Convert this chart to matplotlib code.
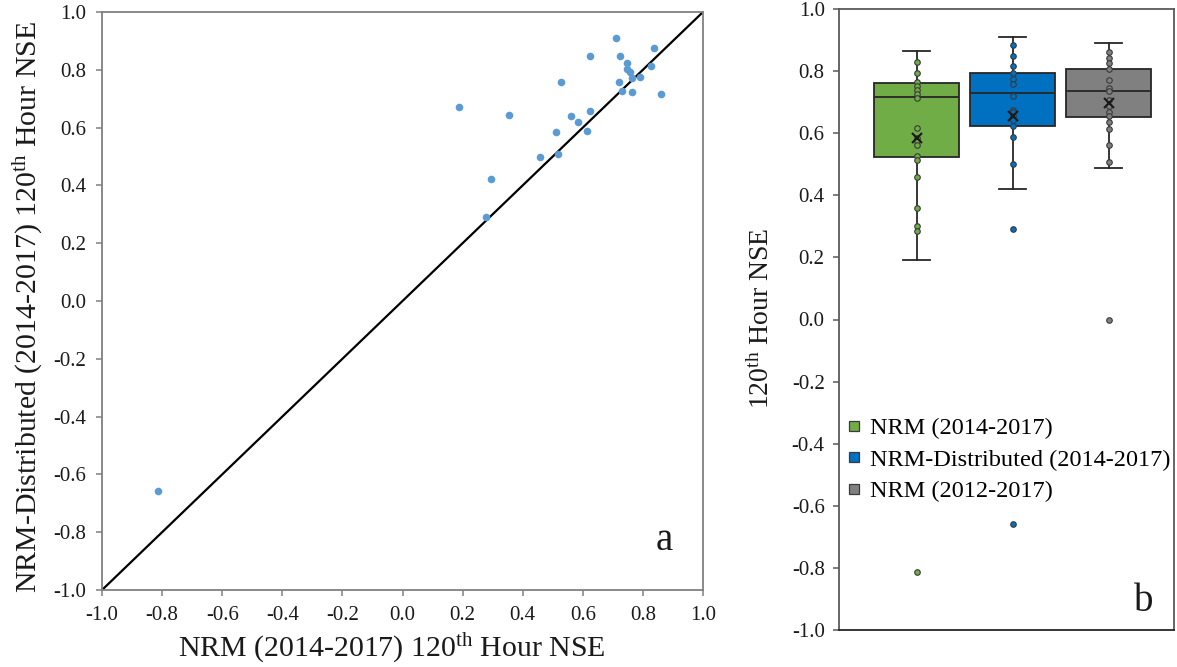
import numpy as np
import matplotlib
matplotlib.use('Agg')
from matplotlib import pyplot as plt
from matplotlib.lines import Line2D

plt.rcParams['font.family'] = ['Liberation Serif', 'DejaVu Serif']
plt.rcParams['mathtext.fontset'] = 'custom'
plt.rcParams['mathtext.rm'] = 'Liberation Serif'
plt.rcParams['mathtext.it'] = 'Liberation Serif:italic'

# panel a - 120th hour NSE, NRM vs NRM-Distributed (2014-2017)
nrm_x = [0.712, 0.837, 0.625, 0.724, 0.747, 0.746, 0.758, 0.827, 0.792, 0.763,
         0.526, 0.721, 0.730, 0.765, 0.860, 0.188, 0.355, 0.625, 0.560, 0.583,
         0.512, 0.614, 0.458, 0.519, 0.296, 0.279, -0.813]
dist_y = [0.909, 0.876, 0.849, 0.849, 0.824, 0.802, 0.792, 0.812, 0.776, 0.771,
          0.757, 0.757, 0.727, 0.724, 0.717, 0.671, 0.643, 0.657, 0.639, 0.618,
          0.584, 0.587, 0.498, 0.508, 0.421, 0.291, -0.657]

# panel b - box plots
labels = ['NRM (2014-2017)', 'NRM-Distributed (2014-2017)', 'NRM (2012-2017)']
colors = ['#70AD47', '#0070C0', '#808080']
q1 = [0.524, 0.623, 0.652]
med = [0.718, 0.728, 0.735]
q3 = [0.761, 0.794, 0.806]
wlo = [0.191, 0.420, 0.487]
whi = [0.864, 0.910, 0.889]
means = [0.584, 0.654, 0.698]
pts_nrm = [0.830, 0.795, 0.765, 0.752, 0.738, 0.725, 0.712, 0.616, 0.584, 0.575,
           0.562, 0.528, 0.514, 0.458, 0.358, 0.301, 0.284, -0.812]
pts_dist = [0.884, 0.850, 0.817, 0.795, 0.775, 0.758, 0.721, 0.675, 0.667, 0.656,
            0.643, 0.623, 0.587, 0.501, 0.292, -0.660]
pts_nrm12 = [0.861, 0.842, 0.826, 0.806, 0.771, 0.747, 0.735, 0.707, 0.689, 0.668,
             0.654, 0.636, 0.614, 0.563, 0.506, 0.000]
pts = [pts_nrm, pts_dist, pts_nrm12]

ticks = np.round(np.arange(-1.0, 1.01, 0.2), 1) + 0.0
ticklabels = ['%.1f' % t for t in ticks]
ticklabels = [t.replace('-0.0', '0.0') for t in ticklabels]
txt = '#1a1a1a'

fig = plt.figure(figsize=(11.77, 6.67), dpi=100)

# ---- a ----
ax = fig.add_axes([102/1177, 77/667, 601/1177, 578/667])
ax.scatter(nrm_x, dist_y, s=30, color='#5B9BD5', zorder=3, linewidths=0)
ax.plot([-1, 1], [-1, 1], color='black', lw=1.6, zorder=2)
ax.set_xlim(-1, 1)
ax.set_ylim(-1, 1)
ax.set_xticks(ticks)
ax.set_yticks(ticks)
ax.set_xticklabels(ticklabels)
ax.set_yticklabels(ticklabels)
for s in ax.spines.values():
    s.set_color('#808080')
    s.set_linewidth(1.3)
ax.tick_params(direction='out', length=4.3, width=1.1, color='#808080',
               labelsize=15, labelcolor=txt, pad=7)
ax.text(0.935, 0.07, 'a', transform=ax.transAxes, fontsize=28, color=txt,
        ha='center', va='baseline')

fig.text(392/1177, 10/667, r'NRM (2014-2017) 120$^{\mathrm{th}}$ Hour NSE',
         fontsize=21.5, color=txt, ha='center', va='baseline')
fig.text(28/1177, 1 - 307/667,
         r'NRM-Distributed (2014-2017) 120$^{\mathrm{th}}$ Hour NSE',
         fontsize=21.5, color=txt, ha='center', va='center', rotation=90)

# ---- b ----
bx = fig.add_axes([839/1177, 37/667, 335/1177, 621/667])
stats = []
for i in range(3):
    stats.append({'q1': q1[i], 'med': med[i], 'q3': q3[i], 'whislo': wlo[i],
                  'whishi': whi[i], 'mean': means[i], 'fliers': []})
pos = [1, 2, 3]
bp = bx.bxp(stats, positions=pos, widths=0.89, capwidths=0.28, patch_artist=True,
            showmeans=True, showfliers=False,
            boxprops=dict(edgecolor='#262626', linewidth=1.3),
            medianprops=dict(color='#262626', linewidth=1.3),
            whiskerprops=dict(color='#262626', linewidth=1.3),
            capprops=dict(color='#262626', linewidth=1.3),
            meanprops=dict(marker='x', markeredgecolor='#1a1a1a',
                           markersize=7, markeredgewidth=1.5, zorder=5))
for patch, c in zip(bp['boxes'], colors):
    patch.set_facecolor(c)
for i in range(3):
    bx.plot(np.full(len(pts[i]), pos[i]), pts[i], 'o', ms=4, mfc=colors[i],
            mec='#3a3a3a', mew=0.8, zorder=4, ls='none')
bx.set_xlim(0.19, 3.68)
bx.set_ylim(-1, 1)
bx.set_yticks(ticks)
bx.set_yticklabels(ticklabels)
bx.set_xticks([])
for s in bx.spines.values():
    s.set_color('#595959')
    s.set_linewidth(1.3)
bx.spines['bottom'].set_color('#262626')
bx.tick_params(axis='y', direction='out', length=4.3, width=1.1, color='#595959',
               labelsize=15, labelcolor=txt, pad=6)
bx.text(0.91, 0.03, 'b', transform=bx.transAxes, fontsize=28, color=txt,
        ha='center', va='baseline')

handles = [Line2D([], [], marker='s', ls='none', ms=7, mfc=c, mec='#3a3a3a', mew=0.9)
           for c in colors]
bx.legend(handles, labels, loc='upper left', bbox_to_anchor=(0.02, 0.343),
          frameon=False, fontsize=17.5, handlelength=0.7, handletextpad=0.3,
          labelspacing=0.4, borderaxespad=0, borderpad=0)

fig.text(762/1177, 1 - 318/667, r'120$^{\mathrm{th}}$ Hour NSE',
         fontsize=20, color=txt, ha='center', va='center', rotation=90)

plt.savefig('out.png', dpi=100)
